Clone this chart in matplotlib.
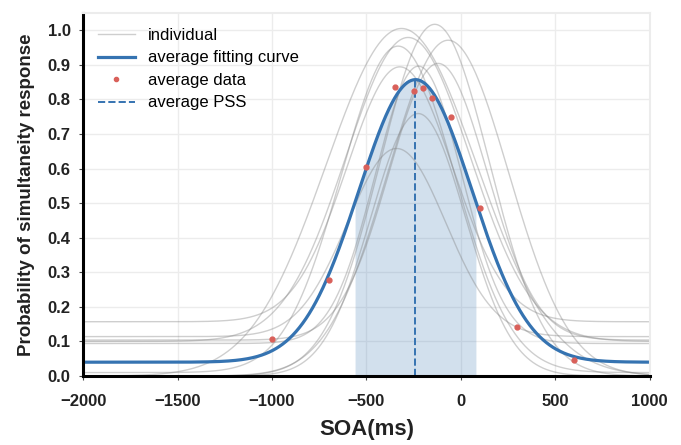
import numpy as np
import matplotlib
matplotlib.use("Agg")
import matplotlib.pyplot as plt
from matplotlib.lines import Line2D

plt.rcParams['font.family'] = ['Liberation Sans', 'DejaVu Sans']

# average data points
soa = [-1000, -700, -500, -350, -250, -200, -150, -50, 100, 300, 600]
avg_resp = [0.106, 0.279, 0.603, 0.837, 0.823, 0.832, 0.804, 0.749, 0.486, 0.142, 0.046]

# gaussian fit of the average: baseline, peak, centre (PSS), width
avg_base = 0.04
avg_peak = 0.857
avg_pss = -240
avg_sigma = 300

# individual fits
ind_mu = [-314, -138, -279, -332, -67, -120, -323, -224, -226, -340]
ind_peak = [1.005, 1.017, 0.979, 0.954, 0.971, 0.904, 0.894, 0.896, 0.759, 0.658]
ind_sigma = [400, 290, 330, 300, 320, 260, 280, 230, 250, 260]
ind_base = [0.0, 0.0, 0.10, 0.01, 0.0, 0.104, 0.157, 0.094, 0.0, 0.114]

BLUE = '#3573b1'
RED = '#d9605a'


def gauss(x, base, peak, mu, sigma):
    return base + (peak - base) * np.exp(-(x - mu) ** 2 / (2 * sigma ** 2))


x = np.linspace(-2000, 1000, 1201)

fig = plt.figure(figsize=(6.81, 4.45), dpi=100)
ax = fig.add_axes([0.122, 0.155, 0.832, 0.816])

for mu, pk, sg, bs in zip(ind_mu, ind_peak, ind_sigma, ind_base):
    ax.plot(x, gauss(x, bs, pk, mu, sg), color='gray', alpha=0.38, lw=1.0)

avg_curve = gauss(x, avg_base, avg_peak, avg_pss, avg_sigma)
ax.fill_between(x, 0, avg_curve, where=avg_curve >= 0.5, color=BLUE, alpha=0.22, lw=0)
ax.plot(x, avg_curve, color=BLUE, lw=2.3)
ax.plot([avg_pss, avg_pss], [0, gauss(avg_pss, avg_base, avg_peak, avg_pss, avg_sigma)],
        color=BLUE, lw=1.4, ls='--')
ax.plot(soa, avg_resp, 'o', color=RED, ms=3.5, zorder=5)

ax.set_xlim(-2000, 1000)
ax.set_ylim(0, 1.05)
ax.set_xticks(np.arange(-2000, 1001, 500))
ax.set_yticks(np.round(np.arange(0, 1.01, 0.1), 1))
ax.set_xticklabels([str(v).replace('-', '\u2212') for v in range(-2000, 1001, 500)])
ax.set_yticklabels(['%.1f' % v for v in np.arange(0, 1.01, 0.1)])
for lab in ax.get_xticklabels() + ax.get_yticklabels():
    lab.set_fontweight('bold')
    lab.set_fontsize(12)
    lab.set_color('#222222')
ax.tick_params(length=3, width=0.8, color='#444444')
ax.tick_params(axis='x', pad=10)
ax.tick_params(axis='y', pad=6)

ax.grid(True, color='#ececec', lw=1.0)
ax.set_axisbelow(True)
for s in ['top', 'right']:
    ax.spines[s].set_color('#ececec')
    ax.spines[s].set_linewidth(1.5)
for s in ['left', 'bottom']:
    ax.spines[s].set_color('black')
    ax.spines[s].set_linewidth(2.2)

ax.set_xlabel('SOA(ms)', fontsize=16, fontweight='bold', color='#222222')
ax.set_ylabel('Probability of simultaneity response', fontsize=13.5, fontweight='bold',
              color='#222222')
ax.xaxis.set_label_coords(0.5, -0.118)
ax.yaxis.set_label_coords(-0.085, 0.5)

handles = [
    Line2D([], [], color='gray', alpha=0.38, lw=1.0),
    Line2D([], [], color=BLUE, lw=2.3),
    Line2D([], [], color=RED, marker='o', ls='none', ms=3),
    Line2D([], [], color=BLUE, lw=1.4, ls='--'),
]
labels = ['individual', 'average fitting curve', 'average data', 'average PSS']
ax.legend(handles, labels, loc='upper left', frameon=False, fontsize=12,
          handlelength=2.2, labelspacing=0.45)

fig.savefig('out.png', dpi=100)
